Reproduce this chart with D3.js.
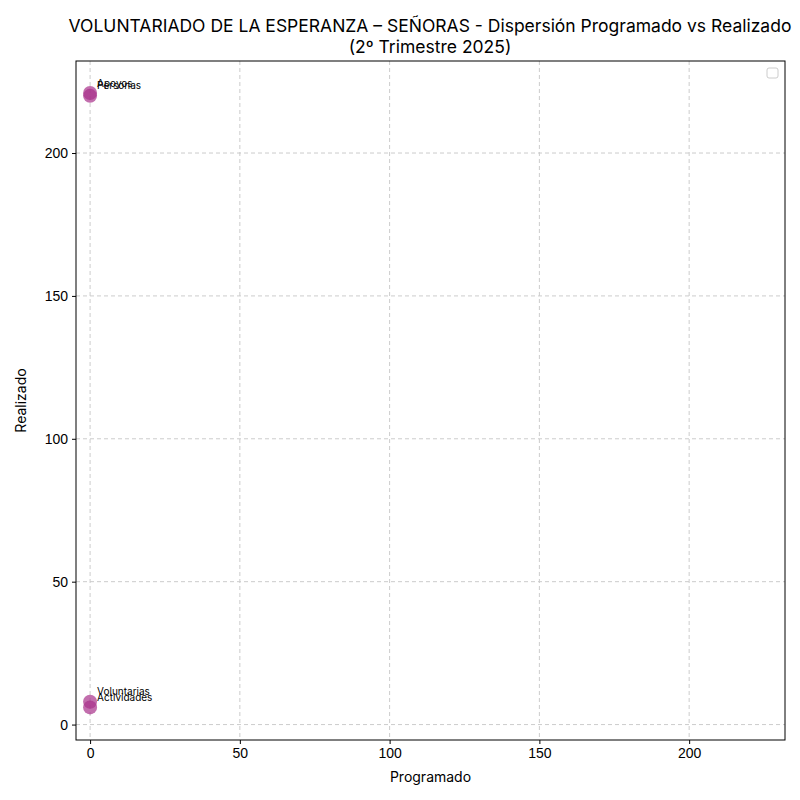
<!DOCTYPE html>
<html>
<head>
<meta charset="UTF-8">
<script src="https://d3js.org/d3.v7.min.js"></script>
<style>
  body { margin: 0; background: #fff; font-family: Inter, "DejaVu Sans", sans-serif; }
  .grid line { stroke: #ccc; stroke-dasharray: 4,3; }
  .axis text { font-size: 14px; fill: #000; }
</style>
</head>
<body>
<svg id="chart" width="800" height="800"></svg>
<script>
// Datos
const labels = ["Apoyos", "Personas", "Voluntarias", "Actividades"];
const programado = [0, 0, 0, 0];
const realizado = [221, 220, 8, 6];
const xTicks = [0, 50, 100, 150, 200];
const yTicks = [0, 50, 100, 150, 200];

const svg = d3.select("#chart");
const plot = { left: 76, right: 785, top: 61, bottom: 740 };

const x = d3.scaleLinear().domain([-4.7, 232]).range([plot.left, plot.right]);
const y = d3.scaleLinear().domain([-5.4, 232.2]).range([plot.bottom, plot.top]);

// Rejilla
const grid = svg.append("g").attr("class", "grid");
grid.selectAll(".gx").data(xTicks).join("line")
    .attr("x1", d => x(d)).attr("x2", d => x(d))
    .attr("y1", plot.top).attr("y2", plot.bottom);
grid.selectAll(".gy").data(yTicks).join("line")
    .attr("y1", d => y(d)).attr("y2", d => y(d))
    .attr("x1", plot.left).attr("x2", plot.right);

// Ejes
svg.append("g").attr("class", "axis")
    .attr("transform", `translate(0,${plot.bottom})`)
    .call(d3.axisBottom(x).tickValues(xTicks).tickSize(4).tickPadding(4))
    .call(g => g.select(".domain").remove());
svg.append("g").attr("class", "axis")
    .attr("transform", `translate(${plot.left},0)`)
    .call(d3.axisLeft(y).tickValues(yTicks).tickSize(4).tickPadding(4))
    .call(g => g.select(".domain").remove());

svg.append("rect")
    .attr("x", plot.left).attr("y", plot.top)
    .attr("width", plot.right - plot.left).attr("height", plot.bottom - plot.top)
    .attr("fill", "none").attr("stroke", "#000");

// Puntos
const pts = labels.map((l, i) => ({ label: l, x: programado[i], y: realizado[i] }));
svg.append("g").selectAll("circle").data(pts).join("circle")
    .attr("cx", d => x(d.x)).attr("cy", d => y(d.y)).attr("r", 7)
    .attr("fill", "#a8308a").attr("fill-opacity", 0.7);

svg.append("g").selectAll("text").data(pts).join("text")
    .attr("x", d => x(d.x) + 7).attr("y", d => y(d.y) - 10)
    .attr("font-size", 10).attr("dy", "0.35em")
    .text(d => d.label);

// Leyenda vacía
svg.append("rect").attr("x", 767).attr("y", 68).attr("width", 11).attr("height", 10)
    .attr("rx", 2).attr("fill", "#fff").attr("stroke", "#ccc");

// Títulos
svg.append("text").attr("x", 430).attr("y", 32).attr("text-anchor", "middle")
    .attr("font-size", 17.5).text("VOLUNTARIADO DE LA ESPERANZA – SEÑORAS - Dispersión Programado vs Realizado");
svg.append("text").attr("x", 430).attr("y", 53).attr("text-anchor", "middle")
    .attr("font-size", 17.5).text("(2º Trimestre 2025)");
svg.append("text").attr("x", (plot.left + plot.right) / 2).attr("y", 782).attr("text-anchor", "middle")
    .attr("font-size", 14).text("Programado");
svg.append("text").attr("transform", `translate(26,${(plot.top + plot.bottom) / 2}) rotate(-90)`)
    .attr("text-anchor", "middle").attr("font-size", 14).text("Realizado");
</script>
</body>
</html>
